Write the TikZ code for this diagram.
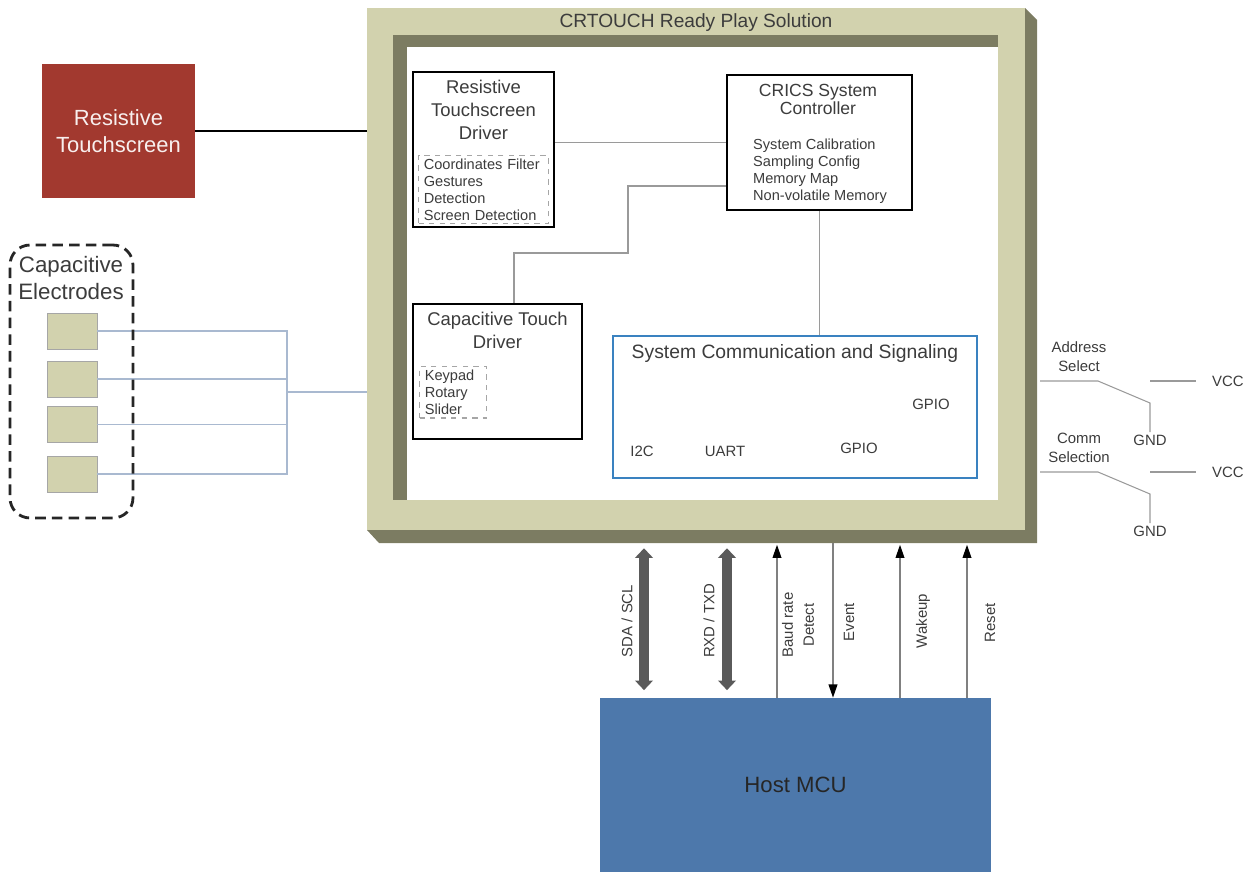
\documentclass[tikz,border=0pt]{standalone}
\usepackage{fontspec}
\setmainfont{Liberation Sans}
\usepackage{xcolor}
\usepackage{tikz}
\usetikzlibrary{arrows.meta,positioning}

\definecolor{frameBeige}{HTML}{D2D2AE}
\definecolor{frameOlive}{HTML}{7C7C62}
\definecolor{touchRed}{HTML}{A2392F}
\definecolor{hostBlue}{HTML}{4D78AB}
\definecolor{scsBlue}{HTML}{3A82C0}
\definecolor{wireGray}{HTML}{9A9A9A}
\definecolor{wireBlue}{HTML}{A9B9D0}
\definecolor{textGray}{HTML}{3C3C3C}
\definecolor{busGray}{HTML}{5A5A5A}

\begin{document}
\begin{tikzpicture}[x=0.02cm,y=-0.02cm,
      frame_box/.style={
         fill=frameBeige,
         inner sep=0pt,
         minimum width=13.16cm,
         minimum height=10.44cm},
      block_box/.style={
         draw=black,
         line width=1.1pt,
         fill=white,
         inner sep=0pt},
      list_box/.style={
         draw=gray!70,
         dashed,
         line width=0.6pt,
         align=left,
         inner xsep=3pt,
         inner ysep=2pt,
         text=textGray,
         font=\fontsize{8.3}{9.6}\selectfont},
      title_text/.style={
         align=center,
         text=textGray,
         font=\fontsize{10.5}{13}\selectfont},
      small_text/.style={
         text=textGray,
         font=\fontsize{8.5}{10.8}\selectfont},
      electrode/.style={
         draw=gray!70,
         fill=frameBeige,
         inner sep=0pt,
         minimum width=1cm,
         minimum height=0.72cm},
      link/.style={
         draw=wireGray,
         line width=0.6pt},
      wire/.style={
         draw=wireBlue,
         line width=0.6pt},
      bus_arrow/.style={
         {Triangle[length=5.5pt,width=10pt]}-{Triangle[length=5.5pt,width=10pt]},
         draw=busGray,
         line width=5.5pt},
      sig_arrow/.style={
         -{Triangle[length=7.5pt,width=5pt,color=black]},
         draw=gray,
         line width=0.7pt}
]
      \useasboundingbox (0,0) rectangle (1252,872);

      %3d frame
      \fill[frameOlive] (367,530) -- (379,543) -- (1037,543) -- (1037,20) -- (1025,8) -- cycle;
      \node[frame_box] (crtouch) at (696,269) {};
      \fill[frameOlive] (393,35) rectangle (998,500);
      \fill[white] (407,47) rectangle (998,500);
      \node[font=\fontsize{10.9}{13}\selectfont, text=textGray] (crtouch_title) at (696,23) {CRTOUCH Ready Play Solution};
      \coordinate (frame_base) at (696,543);

      %resistive touchscreen
      \node[fill=touchRed, text=white!92!touchRed, align=center,
            minimum width=3.06cm, minimum height=2.68cm,
            font=\fontsize{12.5}{15.3}\selectfont] (rts) at (118.5,131) {Resistive\\Touchscreen};
      \draw[line width=1.7pt] (rts.east) -- (rts.east -| crtouch.west);

      %blocks inside
      \node[block_box, minimum width=2.82cm, minimum height=3.1cm] (rtd) at (483.5,149.5) {};
      \node[title_text, anchor=north] (rtd_title) at (483.5,74) {Resistive\\Touchscreen\\Driver};
      \node[list_box, text width=2.38cm, anchor=north west] (rtd_list) at (418,155)
         {Coordinates Filter\\Gestures\\Detection\\Screen Detection};

      \node[block_box, minimum width=3.7cm, minimum height=2.7cm] (crics) at (819.5,142.5) {};
      \node[title_text, font=\fontsize{10}{10.3}\selectfont, anchor=north] (crics_title) at (818,78) {CRICS System\\Controller};
      \node[small_text, font=\fontsize{8.3}{9.6}\selectfont, align=left, anchor=north west] (crics_list) at (747,133)
         {System Calibration\\Sampling Config\\Memory Map\\Non-volatile Memory};

      \node[block_box, minimum width=3.38cm, minimum height=2.7cm] (ctd) at (497.5,371.5) {};
      \node[title_text, anchor=north] (ctd_title) at (497.5,306) {Capacitive Touch\\Driver};
      \node[list_box, text width=1.13cm, anchor=north west] (ctd_list) at (419,366) {Keypad\\Rotary\\Slider};

      \node[draw=scsBlue, line width=1pt, fill=white, minimum width=7.28cm, minimum height=2.84cm] (scs) at (795,407) {};
      \node[title_text, font=\fontsize{11}{13}\selectfont] (scs_title) at (795,354) {System Communication and Signaling};
      \foreach \n/\x/\y/\txt in {% name/x/y/text
        i2c/642/451/I2C,
        uart/725/451/UART,
        gpioa/859/448/GPIO,
        gpiob/931/404/GPIO}
      \node[small_text] (\n) at (\x,\y) {\txt};

      \draw[link] (rtd.east |- crics.west) -- (crics.west);
      \draw[link] (crics.west |- 0,186) -| (628,253) -| (ctd.north -| 514,0);
      \draw[link] (crics.south) -- (crics.south |- scs.north);

      %capacitive electrodes
      \foreach \i/\y in {1/331,2/379,3/424.5,4/474}
      \node[electrode] (e\i) at (72,\y) {};
      \coordinate (bus) at (287,392);
      \foreach \i in {1,...,4}
      \draw[wire] (e\i.east) -| (bus);
      \draw[wire] (bus) -- (bus -| crtouch.west);
      \node[draw=black!85, dashed, dash pattern=on 6pt off 3.5pt, line width=1.6pt, rounded corners=0.4cm,
            minimum width=2.46cm, minimum height=5.46cm] (capgroup) at (71.5,381.5) {};
      \node[title_text, font=\fontsize{12.7}{15.3}\selectfont] (cap_title) at (71,278) {Capacitive\\Electrodes};

      %address and comm selection
      \foreach \n/\y/\txt in {addr/381/{Address\\Select}, comm/472/{Comm\\Selection}} {
        \node[small_text, align=center] (\n_lbl) at (1079,\y-24) {\txt};
        \node[small_text] (\n_vcc) at (1228,\y) {VCC};
        \node[small_text] (\n_gnd) at (1150,\y+59) {GND};
        \coordinate (\n_pin) at (1040,\y);
        \draw[link] (\n_pin) -- (1098,\y) -- (1150,\y+22) -- ([yshift=-2pt]\n_gnd.north);
        \draw[link] (\n_vcc.west -| 1150,0) -- ([xshift=-0.2cm]\n_vcc.west);
      }

      %host
      \node[fill=hostBlue, minimum width=7.82cm, minimum height=3.48cm, text=black!85,
            font=\fontsize{12.6}{15}\selectfont] (host) at (795.5,785) {Host MCU};

      \foreach \x/\lx/\txt in {644/627/{SDA / SCL}, 727/709/{RXD / TXD}} {
        \draw[bus_arrow, shorten <=3pt, shorten >=1.5mm] (frame_base -| \x,0) -- (host.north -| \x,0);
        \node[small_text, rotate=90] (bus\x) at (\lx,621) {\txt};
      }
      \draw[sig_arrow, shorten >=1pt] (host.north -| 777,0) -- (frame_base -| 777,0);
      \draw[sig_arrow] (frame_base -| 833,0) -- (host.north -| 833,0);
      \draw[sig_arrow, shorten >=1pt] (host.north -| 900,0) -- (frame_base -| 900,0);
      \draw[sig_arrow, shorten >=1pt] (host.north -| 967,0) -- (frame_base -| 967,0);
      \node[small_text, rotate=90, align=center, font=\fontsize{8.5}{12}\selectfont] (baud) at (798,625) {Baud rate\\Detect};
      \node[small_text, rotate=90] (event) at (849,622) {Event};
      \node[small_text, rotate=90] (wakeup) at (923,621) {Wakeup};
      \node[small_text, rotate=90] (reset) at (990,623) {Reset};

\end{tikzpicture}
\end{document}
